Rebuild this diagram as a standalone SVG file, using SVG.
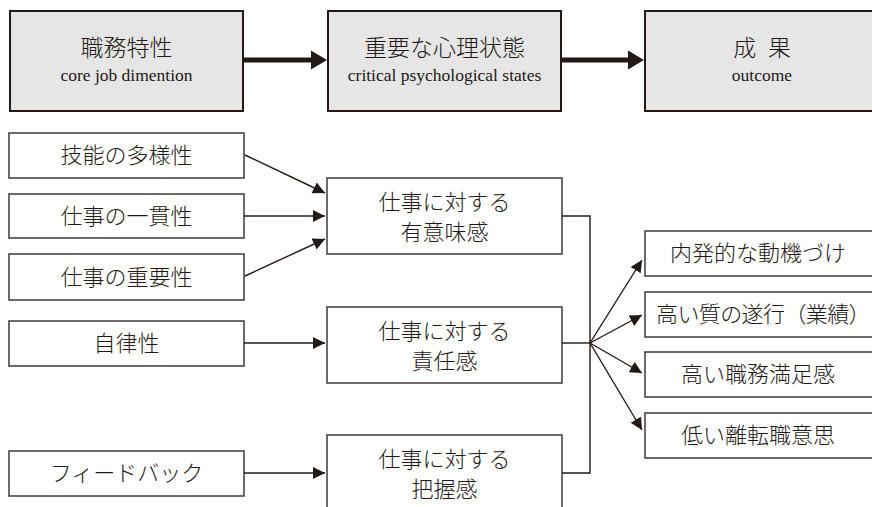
<svg xmlns="http://www.w3.org/2000/svg" width="872" height="507" viewBox="0 0 872 507">
<style>
  text { font-family: "Liberation Serif", "Noto Sans CJK JP", serif; fill: #231815; text-anchor: middle; }
  .hdr rect { fill: #e6e6e6; stroke: #231815; stroke-width: 2; }
  .box rect { fill: #ffffff; stroke: #3e3a39; stroke-width: 1.5; }
  .jp { font-size: 22px; font-weight: 300; }
  .hj { font-size: 23px; font-weight: 300; }
  .en { font-size: 17.5px; }
  .thin { stroke: #231815; stroke-width: 1.4; fill: none; }
  .thick { stroke: #231815; stroke-width: 5; fill: none; }
  .head { fill: #231815; }
</style>
<defs>
  <marker id="ah" markerUnits="userSpaceOnUse" markerWidth="13" markerHeight="13" refX="12" refY="6" orient="auto">
    <path d="M0,0 L12,6 L0,12 z" fill="#231815"/>
  </marker>
</defs>

<g id="h1" class="hdr">
  <rect x="10" y="11" width="233" height="100"/>
  <text class="hj" x="126.5" y="56">職務特性</text>
  <text class="en" x="126.5" y="81">core job dimention</text>
</g>
<g id="h2" class="hdr">
  <rect x="328" y="11" width="233" height="100"/>
  <text class="hj" x="444.5" y="56">重要な心理状態</text>
  <text class="en" x="444.5" y="81">critical psychological states</text>
</g>
<g id="h3" class="hdr">
  <rect x="645" y="11" width="234" height="100"/>
  <text class="hj" x="762" y="56" word-spacing="6">成 果</text>
  <text class="en" x="762" y="81">outcome</text>
</g>

<g id="n1" class="box">
  <rect x="9" y="133" width="235" height="45"/>
  <text class="jp" x="126.5" y="163">技能の多様性</text>
</g>
<g id="n2" class="box">
  <rect x="9" y="194" width="235" height="44"/>
  <text class="jp" x="126.5" y="224">仕事の一貫性</text>
</g>
<g id="n3" class="box">
  <rect x="9" y="254" width="235" height="46"/>
  <text class="jp" x="126.5" y="285">仕事の重要性</text>
</g>
<g id="n4" class="box">
  <rect x="9" y="321" width="235" height="45"/>
  <text class="jp" x="126.5" y="351">自律性</text>
</g>
<g id="n5" class="box">
  <rect x="9" y="451" width="235" height="45"/>
  <text class="jp" x="126.5" y="481">フィードバック</text>
</g>

<g id="m1" class="box">
  <rect x="327" y="178" width="235" height="76"/>
  <text class="jp" x="444.5" y="210">仕事に対する</text>
  <text class="jp" x="444.5" y="240">有意味感</text>
</g>
<g id="m2" class="box">
  <rect x="327" y="307" width="235" height="76"/>
  <text class="jp" x="444.5" y="339">仕事に対する</text>
  <text class="jp" x="444.5" y="369">責任感</text>
</g>
<g id="m3" class="box">
  <rect x="327" y="435" width="235" height="80"/>
  <text class="jp" x="444.5" y="467">仕事に対する</text>
  <text class="jp" x="444.5" y="497">把握感</text>
</g>

<g id="o1" class="box">
  <rect x="645" y="231" width="228" height="45"/>
  <text class="jp" x="758" y="261">内発的な動機づけ</text>
</g>
<g id="o2" class="box">
  <rect x="645" y="292" width="228" height="45"/>
  <text class="jp" x="763" y="322" letter-spacing="-0.6">高い質の遂行（業績）</text>
</g>
<g id="o3" class="box">
  <rect x="645" y="352" width="228" height="45"/>
  <text class="jp" x="758" y="382">高い職務満足感</text>
</g>
<g id="o4" class="box">
  <rect x="645" y="413" width="228" height="45"/>
  <text class="jp" x="758" y="443">低い離転職意思</text>
</g>

<g id="connectors">
  <line class="thick" x1="243" y1="60" x2="313" y2="60"/>
  <polygon class="head" points="311,50.5 327,60 311,69.5"/>
  <line class="thick" x1="561" y1="60" x2="630" y2="60"/>
  <polygon class="head" points="628,50.5 644,60 628,69.5"/>

  <line class="thin" x1="245" y1="155" x2="325" y2="193" marker-end="url(#ah)"/>
  <line class="thin" x1="244" y1="216" x2="325" y2="216" marker-end="url(#ah)"/>
  <line class="thin" x1="245" y1="276" x2="325" y2="239" marker-end="url(#ah)"/>
  <line class="thin" x1="244" y1="343" x2="325" y2="343" marker-end="url(#ah)"/>
  <line class="thin" x1="244" y1="473" x2="325" y2="473" marker-end="url(#ah)"/>

  <polyline class="thin" points="562,216 590,216 590,473 562,473"/>
  <line class="thin" x1="562" y1="343" x2="590" y2="343"/>

  <line class="thin" x1="590" y1="343" x2="642" y2="260" marker-end="url(#ah)"/>
  <line class="thin" x1="590" y1="343" x2="642" y2="315" marker-end="url(#ah)"/>
  <line class="thin" x1="590" y1="343" x2="642" y2="373" marker-end="url(#ah)"/>
  <line class="thin" x1="590" y1="343" x2="642" y2="430" marker-end="url(#ah)"/>
</g>
</svg>
